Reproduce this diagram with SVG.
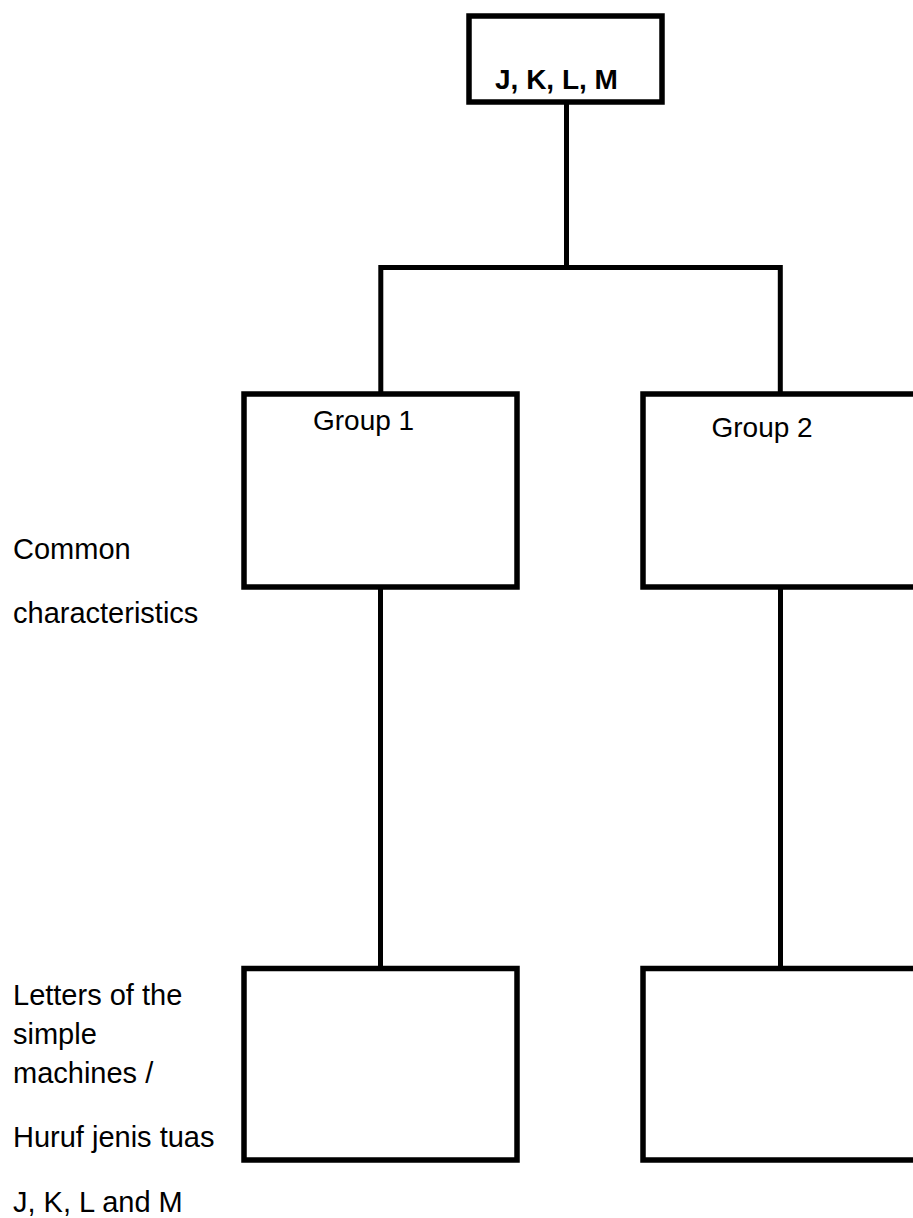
<svg xmlns="http://www.w3.org/2000/svg" width="913" height="1218" viewBox="0 0 913 1218">
<style>
.box{fill:#fff;stroke:#000;stroke-width:5.5}
.con{fill:none;stroke:#000;stroke-width:5;stroke-linecap:butt;stroke-linejoin:miter}
.t{font-family:"Liberation Sans",Arial,sans-serif;font-size:29px;fill:#000}
.g{font-family:"Liberation Sans",Arial,sans-serif;font-size:28px;fill:#000}
.b{font-family:"Liberation Sans",Arial,sans-serif;font-size:28px;font-weight:bold;fill:#000}
</style>
<rect width="913" height="1218" fill="#fff"/>
<g id="connectors">
<line class="con" x1="566.5" y1="102" x2="566.5" y2="267.5"/>
<polyline class="con" points="380.8,394 380.8,267.5 780.3,267.5 780.3,394"/>
<line class="con" x1="380.5" y1="587" x2="380.5" y2="968.5"/>
<line class="con" x1="780.5" y1="587" x2="780.5" y2="968.5"/>
</g>
<g id="top">
<rect class="box" x="469" y="16" width="193" height="86"/>
<text class="b" x="495" y="89">J, K, L, M</text>
</g>
<g id="group1">
<rect class="box" x="244" y="394" width="273" height="193"/>
<text class="g" x="313" y="430">Group 1</text>
</g>
<g id="group2">
<rect class="box" x="643" y="394" width="273" height="193"/>
<text class="g" x="711.5" y="436.5">Group 2</text>
</g>
<g id="letters1">
<rect class="box" x="244" y="968.5" width="273" height="191.5"/>
</g>
<g id="letters2">
<rect class="box" x="643" y="968.5" width="273" height="191.5"/>
</g>
<g id="labels">
<text class="t" x="13" y="559.3">Common</text>
<text class="t" x="13" y="623.3">characteristics</text>
<text class="t" x="13" y="1005">Letters of the</text>
<text class="t" x="13" y="1044">simple</text>
<text class="t" x="13" y="1082.7">machines /</text>
<text class="t" x="13" y="1147">Huruf jenis tuas</text>
<text class="t" x="13" y="1211.7">J, K, L and M</text>
</g>
</svg>
